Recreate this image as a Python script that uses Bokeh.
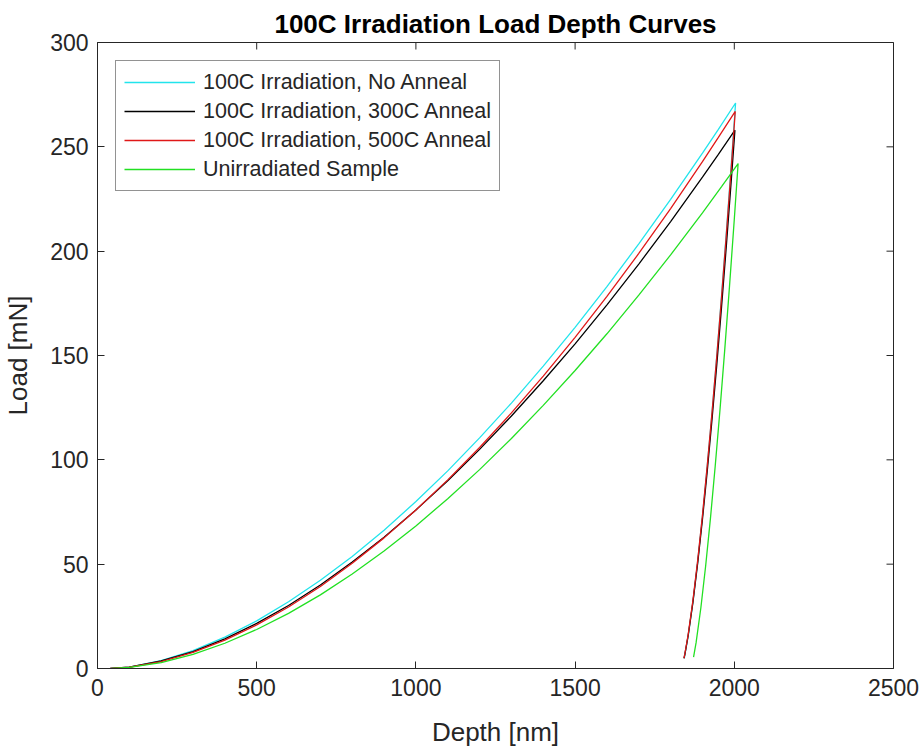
import math
from bokeh.plotting import figure
from bokeh.models import Range1d, FixedTicker, Legend, LegendItem
from bokeh.embed import file_html
from bokeh.resources import INLINE

# ---- data ----
x_ticks = [0, 500, 1000, 1500, 2000, 2500]
y_ticks = [0, 50, 100, 150, 200, 250, 300]

series_names = [
    "100C Irradiation, No Anneal",
    "100C Irradiation, 300C Anneal",
    "100C Irradiation, 500C Anneal",
    "Unirradiated Sample",
]

no_anneal_depth = [40, 100, 200, 300, 400, 500, 600, 700, 800, 900, 1000, 1100, 1200,
                   1300, 1400, 1500, 1600, 1700, 1800, 1900, 1950, 2004,
                   1990, 1975, 1960, 1945, 1930, 1915, 1900, 1885, 1870, 1855, 1845, 1843]
no_anneal_load = [0, 0.7, 3.8, 8.6, 15.0, 22.8, 32.0, 42.3, 53.7, 66.3, 80.0, 94.7, 110.5,
                  127.2, 144.9, 163.5, 183.0, 203.5, 224.8, 247.0, 258.4, 271,
                  240.5, 208.9, 178.7, 149.9, 122.5, 96.9, 73.0, 51.2, 31.8, 15.4, 6.6, 5]

anneal300_depth = [40, 100, 200, 300, 400, 500, 600, 700, 800, 900, 1000, 1100, 1200,
                   1300, 1400, 1500, 1600, 1700, 1800, 1900, 1950, 2002,
                   1990, 1975, 1960, 1945, 1930, 1915, 1900, 1885, 1870, 1855, 1845, 1842]
anneal300_load = [0, 0.7, 3.6, 8.1, 14.2, 21.6, 30.2, 40.0, 51.0, 62.9, 76.0, 90.0, 105.0,
                  121.0, 137.9, 155.6, 174.3, 193.8, 214.2, 235.5, 246.4, 258,
                  232.9, 202.5, 173.4, 145.6, 119.3, 94.6, 71.5, 50.5, 31.7, 15.7, 7.0, 4.9]

anneal500_depth = [40, 100, 200, 300, 400, 500, 600, 700, 800, 900, 1000, 1100, 1200,
                   1300, 1400, 1500, 1600, 1700, 1800, 1900, 1950, 2003,
                   1990, 1975, 1960, 1945, 1930, 1915, 1900, 1885, 1870, 1855, 1845, 1842]
anneal500_load = [0, 0.6, 3.3, 7.7, 13.6, 20.9, 29.5, 39.3, 50.4, 62.6, 76.0, 90.4, 105.9,
                  122.5, 140.1, 158.7, 178.3, 198.9, 220.4, 242.9, 254.5, 267,
                  239.0, 207.9, 178.0, 149.5, 122.5, 97.1, 73.4, 51.8, 32.5, 16.1, 7.2, 5]

unirr_depth = [45, 100, 200, 300, 400, 500, 600, 700, 800, 900, 1000, 1100, 1200,
               1300, 1400, 1500, 1600, 1700, 1800, 1900, 1960, 2012,
               2000, 1985, 1970, 1955, 1940, 1925, 1910, 1895, 1880, 1872]
unirr_load = [0, 0.5, 2.8, 6.8, 12.1, 18.7, 26.4, 35.3, 45.3, 56.3, 68.3, 81.4, 95.3,
              110.2, 126.1, 142.8, 160.4, 178.9, 198.2, 218.4, 230.9, 242,
              215.3, 183.3, 152.8, 123.9, 96.9, 71.8, 49.1, 29.1, 12.4, 5.5]

colors = ["#22e4ec", "#000000", "#e01818", "#22e022"]

FONT = "Liberation Sans"
AX = "#262626"

p = figure(frame_width=796, frame_height=626,
           x_range=Range1d(0, 2500), y_range=Range1d(0, 300),
           output_backend="svg", toolbar_location=None,
           min_border_left=97, min_border_right=30,
           min_border_top=42, min_border_bottom=80,
           background_fill_color="white", border_fill_color="white")

p.title.text = "100C Irradiation Load Depth Curves"
p.title.align = "center"
p.title.text_font = FONT
p.title.text_font_size = "26px"
p.title.text_font_style = "bold"
p.title.text_color = "black"
p.title.standoff = 8

p.xgrid.visible = False
p.ygrid.visible = False
p.outline_line_color = AX
p.outline_line_width = 1

for ax, ticks in ((p.xaxis[0], x_ticks), (p.yaxis[0], y_ticks)):
    ax.ticker = FixedTicker(ticks=ticks)
    ax.minor_tick_line_color = None
    ax.major_tick_in = 7
    ax.major_tick_out = 0
    ax.axis_line_color = AX
    ax.major_tick_line_color = AX
    ax.major_label_text_font = FONT
    ax.major_label_text_font_size = "23px"
    ax.major_label_text_color = AX
    ax.axis_label_text_font = FONT
    ax.axis_label_text_font_size = "26px"
    ax.axis_label_text_font_style = "normal"
    ax.axis_label_text_color = AX

p.xaxis.axis_label = "Depth [nm]"
p.yaxis.axis_label = "Load [mN]"
p.xaxis.major_label_standoff = 10
p.xaxis.axis_label_standoff = 18
p.yaxis.major_label_standoff = 9
p.yaxis.axis_label_standoff = 14

# box tick marks on the top and right edges (inward)
p.scatter(x=x_ticks, y=[y_ticks[-1]] * len(x_ticks), marker="dash", angle=math.pi / 2,
          size=14, line_color=AX, line_width=1)
p.scatter(x=[x_ticks[-1]] * len(y_ticks), y=y_ticks, marker="dash",
          size=14, line_color=AX, line_width=1)

data = [(no_anneal_depth, no_anneal_load), (anneal300_depth, anneal300_load),
        (anneal500_depth, anneal500_load), (unirr_depth, unirr_load)]

items = []
for (d, l), c, name in zip(data, colors, series_names):
    r = p.line(d, l, line_color=c, line_width=1.3)
    items.append(LegendItem(label=name, renderers=[r]))

legend = Legend(items=items, location="top_left")
legend.margin = 18
legend.padding = 8
legend.spacing = 3
legend.glyph_width = 71
legend.glyph_height = 26
legend.label_height = 26
legend.label_standoff = 8
legend.label_text_font = FONT
legend.label_text_font_size = "21.5px"
legend.label_text_color = AX
legend.border_line_color = AX
legend.border_line_width = 1
legend.background_fill_color = "white"
legend.background_fill_alpha = 1.0
p.add_layout(legend)

open("out.html", "w").write(file_html(p, INLINE))
